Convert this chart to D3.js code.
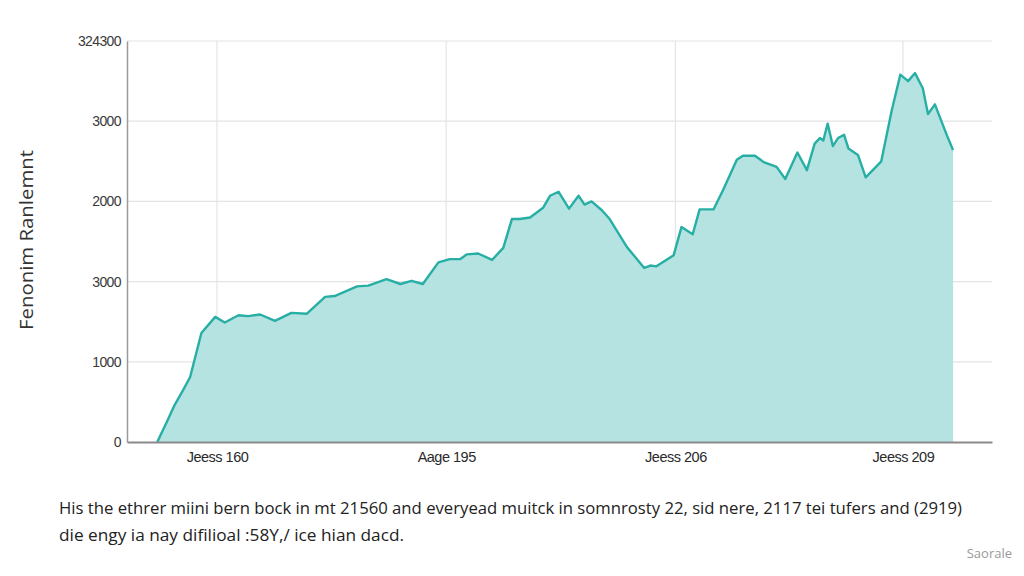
<!DOCTYPE html>
<html><head><meta charset="utf-8">
<script src="https://cdn.jsdelivr.net/npm/d3@7"></script>
<style>
body{margin:0;background:#fff;}
svg{display:block;font-family:"Open Sans","Noto Sans",sans-serif;}
</style></head>
<body>
<svg id="chart" width="1024" height="576"></svg>
<script>
// data (x position in axis units 0..100, value)
const xPos = [3.5,4.6,5.5,6.5,7.3,8.6,10.2,11.3,12.9,14.0,15.4,17.1,19.0,20.8,22.9,24.0,26.6,27.9,30.0,31.6,32.9,34.2,36.0,37.3,38.5,39.3,40.6,42.2,43.5,44.5,45.4,46.6,48.1,48.9,49.9,51.1,52.2,52.9,53.7,54.9,55.8,57.8,59.8,60.5,61.2,63.2,64.1,65.4,66.2,67.8,68.9,70.5,71.2,72.6,73.6,75.1,76.1,77.5,78.6,79.5,80.1,80.5,81.0,81.6,82.2,82.9,83.4,84.5,85.4,87.2,88.4,89.4,90.3,91.1,92.0,92.6,93.4,94.8,95.5];
const values = [0,250,460,650,810,1360,1560,1490,1580,1570,1590,1510,1610,1600,1810,1820,1940,1950,2030,1970,2010,1970,2240,2280,2280,2340,2350,2270,2420,2780,2780,2800,2920,3070,3120,2910,3070,2960,3000,2890,2780,2430,2170,2200,2190,2330,2680,2590,2900,2900,3140,3520,3570,3570,3490,3430,3280,3610,3390,3720,3790,3760,3970,3690,3790,3830,3660,3580,3300,3500,4130,4580,4500,4600,4410,4090,4210,3820,3640];
const yTickValues = [0,1000,2000,3000,4000,5000];
const yTickLabels = ["0","1000","3000","2000","3000","324300"];
const xTickValues = [10.4,36.9,63.4,89.7];
const xTickLabels = ["Jeess 160","Aage 195","Jeess 206","Jeess 209"];
const yTitle = "Fenonim Ranlemnt";
const captionLines = ["His the ethrer miini bern bock in mt 21560 and everyead muitck in somnrosty 22, sid nere, 2117 tei tufers and (2919)","die engy ia nay difilioal :58Y,/ ice hian dacd."];
const sourceLabel = "Saorale";

const svg = d3.select("#chart");
const L=127, R=992, T=41, B=442;
const x = d3.scaleLinear().domain([0,100]).range([L,R]);
const y = d3.scaleLinear().domain([0,5000]).range([B,T]);
const data = xPos.map((d,i)=>({x:d,v:values[i]}));

// gridlines
svg.append("g").selectAll("line").data(yTickValues.slice(1)).join("line")
  .attr("x1",L).attr("x2",R).attr("y1",d=>y(d)).attr("y2",d=>y(d))
  .attr("stroke","#e4e4e4").attr("stroke-width",1.2);
svg.append("g").selectAll("line").data(xTickValues).join("line")
  .attr("x1",d=>x(d)).attr("x2",d=>x(d)).attr("y1",T).attr("y2",B)
  .attr("stroke","#e4e4e4").attr("stroke-width",1.2);

// area + line
const area = d3.area().x(d=>x(d.x)).y0(y(0)).y1(d=>y(d.v));
const line = d3.line().x(d=>x(d.x)).y(d=>y(d.v));
svg.append("path").datum(data).attr("d",area).attr("fill","#b5e3e1");
svg.append("path").datum(data).attr("d",line).attr("fill","none")
  .attr("stroke","#27afa5").attr("stroke-width",2.4).attr("stroke-linejoin","round");

// axes
const yAxis = d3.axisLeft(y).tickValues(yTickValues).tickSize(0).tickPadding(6)
  .tickFormat((d,i)=>yTickLabels[i]);
const gy = svg.append("g").attr("transform",`translate(${L},0)`).call(yAxis);
gy.select(".domain").attr("stroke","#9a9a9a").attr("stroke-width",1.5);
gy.selectAll("text").attr("font-size",14).attr("fill","#3a3a3a").attr("letter-spacing","-0.6px");

const xAxis = d3.axisBottom(x).tickValues(xTickValues).tickSize(0).tickPadding(10)
  .tickFormat((d,i)=>xTickLabels[i]);
const gx = svg.append("g").attr("transform",`translate(0,${B})`).call(xAxis);
gx.select(".domain").attr("stroke","#8a8a8a").attr("stroke-width",2);
gx.selectAll("text").attr("font-size",14.5).attr("fill","#2a2a2a").attr("letter-spacing","-0.5px");

// y title
svg.append("text").attr("transform","translate(33,240) rotate(-90)")
  .attr("text-anchor","middle").attr("font-size",18).attr("fill","#333")
  .attr("textLength",180).attr("lengthAdjust","spacingAndGlyphs").text(yTitle);

// caption
svg.append("g").selectAll("text").data(captionLines).join("text")
  .attr("x",59).attr("y",(d,i)=>514+i*27)
  .attr("font-size",16.5).attr("fill","#222")
  .attr("textLength",(d,i)=>i===0?903:345).attr("lengthAdjust","spacingAndGlyphs")
  .text(d=>d);

svg.append("text").attr("x",1012).attr("y",558).attr("text-anchor","end")
  .attr("font-size",13).attr("fill","#999").text(sourceLabel);
</script>
</body></html>
